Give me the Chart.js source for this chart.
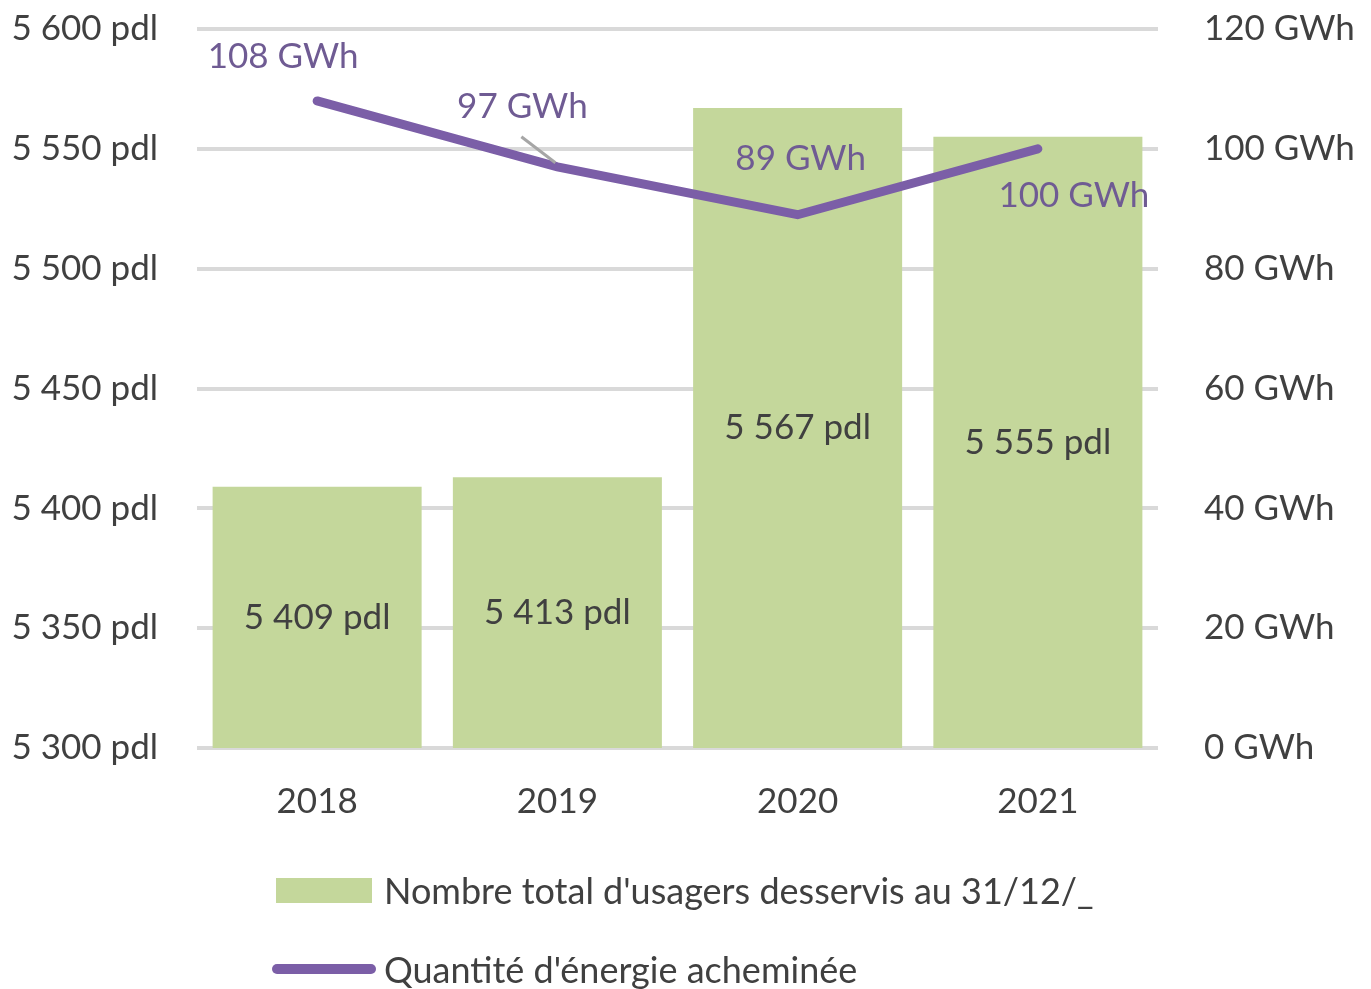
<!DOCTYPE html>
<html>
<head>
<meta charset="utf-8">
<script src="https://cdn.jsdelivr.net/npm/chart.js@4"></script>
<style>
   body { margin: 0; background: #fff; }
   #wrap { position: relative; width: 1371px; height: 989px; overflow: hidden; }
   .leg { position: absolute; left: 272px; font-family: Lato, sans-serif; font-size: 36px; color: #404040; display: flex; align-items: center; }
   .leg .box { width: 96px; height: 25px; background: #c4d79b; margin: 0 12px 0 4px; }
   .leg .ln { width: 104px; height: 10px; background: #7b5ea7; border-radius: 5px; margin-right: 8px; }
</style>
</head>
<body>
<div id="wrap">
   <canvas id="chart" width="1371" height="989"></canvas>
   <div class="leg" style="top:868px"><span class="box"></span>Nombre total d'usagers desservis au 31/12/_</div>
   <div class="leg" style="top:947px"><span class="ln"></span>Quantité d'énergie acheminée</div>
</div>
<script>
const years = ['2018', '2019', '2020', '2021'];
const usagers = [5409, 5413, 5567, 5555];
const energie = [108, 97, 89, 100];
const leftTicks = [5300, 5350, 5400, 5450, 5500, 5550, 5600];
const rightTicks = [0, 20, 40, 60, 80, 100, 120];

const fmt = (n) => String(n).replace(/\B(?=(\d{3})+(?!\d))/g, ' ');

// offsets for the GWh labels, relative to each point
const lineLabelOffsets = [[-34, -44], [-35, -60], [3, -56], [36, 47]];

const labelPlugin = {
   id: 'labels',
   afterDatasetsDraw(chart) {
      const ctx = chart.ctx;
      const base = chart.scales.y.getPixelForValue(5300);
      ctx.save();
      ctx.font = '35px Lato, sans-serif';
      ctx.textAlign = 'center';
      ctx.textBaseline = 'middle';
      // bar labels
      chart.getDatasetMeta(0).data.forEach((bar, i) => {
         const p = bar.getProps(['x', 'y'], true);
         ctx.fillStyle = '#404040';
         ctx.fillText(fmt(usagers[i]) + ' pdl', p.x, (p.y + base) / 2);
      });
      // line labels
      chart.getDatasetMeta(1).data.forEach((pt, i) => {
         const [dx, dy] = lineLabelOffsets[i];
         if (i === 1) {
            ctx.strokeStyle = '#a6a6a6';
            ctx.lineWidth = 3;
            ctx.beginPath();
            ctx.moveTo(pt.x - 36, pt.y - 30);
            ctx.lineTo(pt.x - 2, pt.y - 4);
            ctx.stroke();
         }
         ctx.fillStyle = '#6f5b93';
         ctx.fillText(energie[i] + ' GWh', pt.x + dx, pt.y + dy);
      });
      ctx.restore();
   }
};

// keep tick padding from pushing the chart area down
const fixY = (w) => (s) => { s.width = w; s.paddingTop = 20; s.paddingBottom = 20; };

new Chart(document.getElementById('chart').getContext('2d'), {
   data: {
      labels: years,
      datasets: [{
         type: 'bar',
         label: "Nombre total d'usagers desservis au 31/12/_",
         data: usagers,
         backgroundColor: '#c4d79b',
         yAxisID: 'y',
         categoryPercentage: 1,
         barPercentage: 0.87,
         order: 2
      }, {
         type: 'line',
         label: "Quantité d'énergie acheminée",
         data: energie,
         borderColor: '#7b5ea7',
         borderWidth: 9,
         borderCapStyle: 'round',
         borderJoinStyle: 'miter',
         pointRadius: 0,
         tension: 0,
         yAxisID: 'y1',
         order: 1
      }]
   },
   options: {
      responsive: false,
      animation: false,
      layout: { padding: { top: 29, bottom: 151, left: 0, right: 0 } },
      plugins: { legend: { display: false }, tooltip: { enabled: false } },
      scales: {
         x: {
            grid: { display: false },
            border: { display: false },
            ticks: { color: '#404040', font: { family: 'Lato', size: 35 }, padding: 25 },
            afterFit: (s) => { s.height = 90; }
         },
         y: {
            position: 'left',
            min: 5300, max: 5600,
            afterBuildTicks: (s) => { s.ticks = leftTicks.map(v => ({ value: v })); },
            ticks: { color: '#404040', font: { family: 'Lato', size: 35 }, padding: 39,
                     callback: (v) => fmt(v) + ' pdl' },
            grid: { color: '#d9d9d9', lineWidth: 4, drawTicks: false },
            border: { display: false },
            afterFit: fixY(197)
         },
         y1: {
            position: 'right',
            min: 0, max: 120,
            afterBuildTicks: (s) => { s.ticks = rightTicks.map(v => ({ value: v })); },
            ticks: { color: '#404040', font: { family: 'Lato', size: 35 }, padding: 46,
                     callback: (v) => v + ' GWh' },
            grid: { display: false, drawTicks: false },
            border: { display: false },
            afterFit: fixY(213)
         }
      }
   },
   plugins: [labelPlugin]
});
</script>
</body>
</html>
